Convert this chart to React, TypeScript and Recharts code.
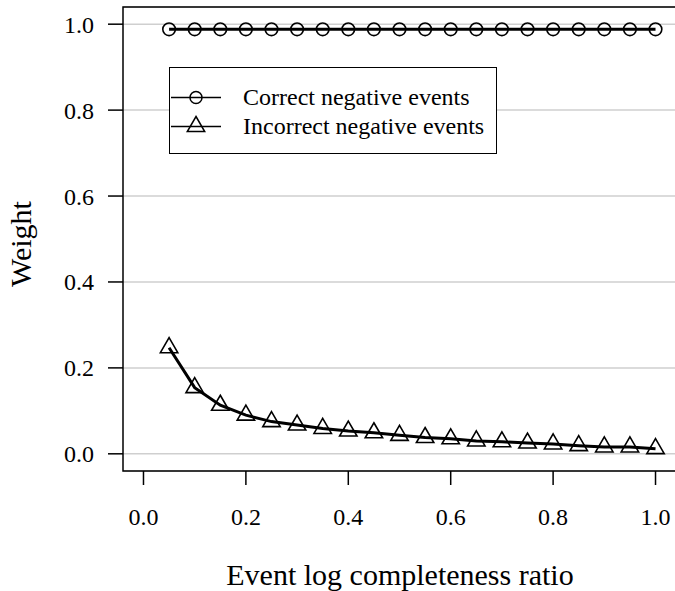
import { LineChart, Line, XAxis, YAxis, CartesianGrid, ReferenceArea } from "recharts";

const ratios = [0.05, 0.1, 0.15, 0.2, 0.25, 0.3, 0.35, 0.4, 0.45, 0.5, 0.55, 0.6, 0.65, 0.7, 0.75, 0.8, 0.85, 0.9, 0.95, 1.0];
const correctWeights = [0.988, 0.988, 0.988, 0.988, 0.988, 0.988, 0.988, 0.988, 0.988, 0.988, 0.988, 0.988, 0.988, 0.988, 0.988, 0.988, 0.988, 0.988, 0.988, 0.988];
const incorrectWeights = [0.247, 0.154, 0.113, 0.09, 0.075, 0.067, 0.059, 0.053, 0.049, 0.043, 0.038, 0.035, 0.03, 0.028, 0.025, 0.023, 0.019, 0.016, 0.016, 0.012];
const axisTicks = [0, 0.2, 0.4, 0.6, 0.8, 1.0];
const seriesNames = ["Correct negative events", "Incorrect negative events"];

const data = ratios.map((r, i) => ({ ratio: r, correct: correctWeights[i], incorrect: incorrectWeights[i] }));

const FONT = "'Liberation Serif', 'DejaVu Serif', serif";

// R's pch=2 style open triangle, centred on the point
function Triangle(props: any) {
  const { cx, cy } = props;
  if (cx == null || cy == null) return null;
  const d = `M${cx},${cy - 10} L${cx + 8.7},${cy + 5} L${cx - 8.7},${cy + 5} Z`;
  return <path key={`tri-${cx}`} d={d} fill="none" stroke="#000" strokeWidth={1.6} />;
}

function LegendBox() {
  const row = (i: number) => (
    <div key={i} style={{ display: "flex", alignItems: "center", height: 29 }}>
      <svg width={52} height={29} style={{ flex: "none" }}>
        <line x1={1} x2={51} y1={14.5} y2={14.5} stroke="#000" strokeWidth={1.5} />
        {i === 0 ? (
          <circle cx={26} cy={14.5} r={6} fill="none" stroke="#000" strokeWidth={1.5} />
        ) : (
          <path d="M26,4.5 L34.7,19.5 L17.3,19.5 Z" fill="none" stroke="#000" strokeWidth={1.5} />
        )}
      </svg>
      <span style={{ marginLeft: 21, fontSize: 24, lineHeight: "29px", whiteSpace: "nowrap" }}>{seriesNames[i]}</span>
    </div>
  );
  return (
    <div
      style={{
        position: "absolute",
        left: 169,
        top: 67,
        width: 328,
        height: 87,
        boxSizing: "border-box",
        border: "1.5px solid #000",
        background: "#fff",
        paddingTop: 15,
        fontFamily: FONT,
        color: "#000",
      }}
    >
      {row(0)}
      {row(1)}
    </div>
  );
}

export default function App() {
  return (
    <div style={{ position: "absolute", left: 0, top: 0, width: 675, height: 591, overflow: "hidden", background: "#fff" }}>
      <LineChart width={680} height={591} data={data} margin={{ top: 7, right: 4, left: 0, bottom: 0 }}>
        <CartesianGrid vertical={false} stroke="#cfcfcf" strokeWidth={1.5} />
        <XAxis
          dataKey="ratio"
          type="number"
          domain={[-0.04, 1.04]}
          ticks={axisTicks}
          allowDataOverflow
          height={120}
          axisLine={false}
          tickLine={{ stroke: "#000", strokeWidth: 1.5 }}
          tickSize={14}
          tickMargin={23}
          tick={{ fill: "#000", fontSize: 24, fontFamily: FONT }}
          tickFormatter={(v: number) => v.toFixed(1)}
          label={{
            content: () => (
              <text x={400} y={585} textAnchor="middle" fontSize={30} fontFamily={FONT} fill="#000">
                Event log completeness ratio
              </text>
            ),
          }}
        />
        <YAxis
          type="number"
          domain={[-0.04, 1.04]}
          ticks={axisTicks}
          allowDataOverflow
          width={123}
          axisLine={false}
          tickLine={{ stroke: "#000", strokeWidth: 1.5 }}
          tickSize={15}
          tickMargin={14}
          tick={{ fill: "#000", fontSize: 24, fontFamily: FONT }}
          tickFormatter={(v: number) => v.toFixed(1)}
          label={{
            content: (p: any) => {
              const vb = p.viewBox || { y: 7, height: 464 };
              const cy = vb.y + vb.height / 2 + 5;
              return (
                <text x={31} y={cy} transform={`rotate(-90, 31, ${cy})`} textAnchor="middle" fontSize={30} fontFamily={FONT} fill="#000">
                  Weight
                </text>
              );
            },
          }}
        />
        <ReferenceArea x1={-0.04} x2={1.04} y1={-0.04} y2={1.04} fill="none" fillOpacity={0} stroke="#000" strokeWidth={1.5} ifOverflow="visible" />
        <Line
          dataKey="correct"
          name={seriesNames[0]}
          stroke="#000"
          strokeWidth={3}
          isAnimationActive={false}
          dot={{ r: 6.3, fill: "none", stroke: "#000", strokeWidth: 1.6 }}
          activeDot={false}
        />
        <Line
          dataKey="incorrect"
          name={seriesNames[1]}
          type="linear"
          stroke="#000"
          strokeWidth={3}
          isAnimationActive={false}
          dot={<Triangle />}
          activeDot={false}
        />
      </LineChart>
      <LegendBox />
    </div>
  );
}
